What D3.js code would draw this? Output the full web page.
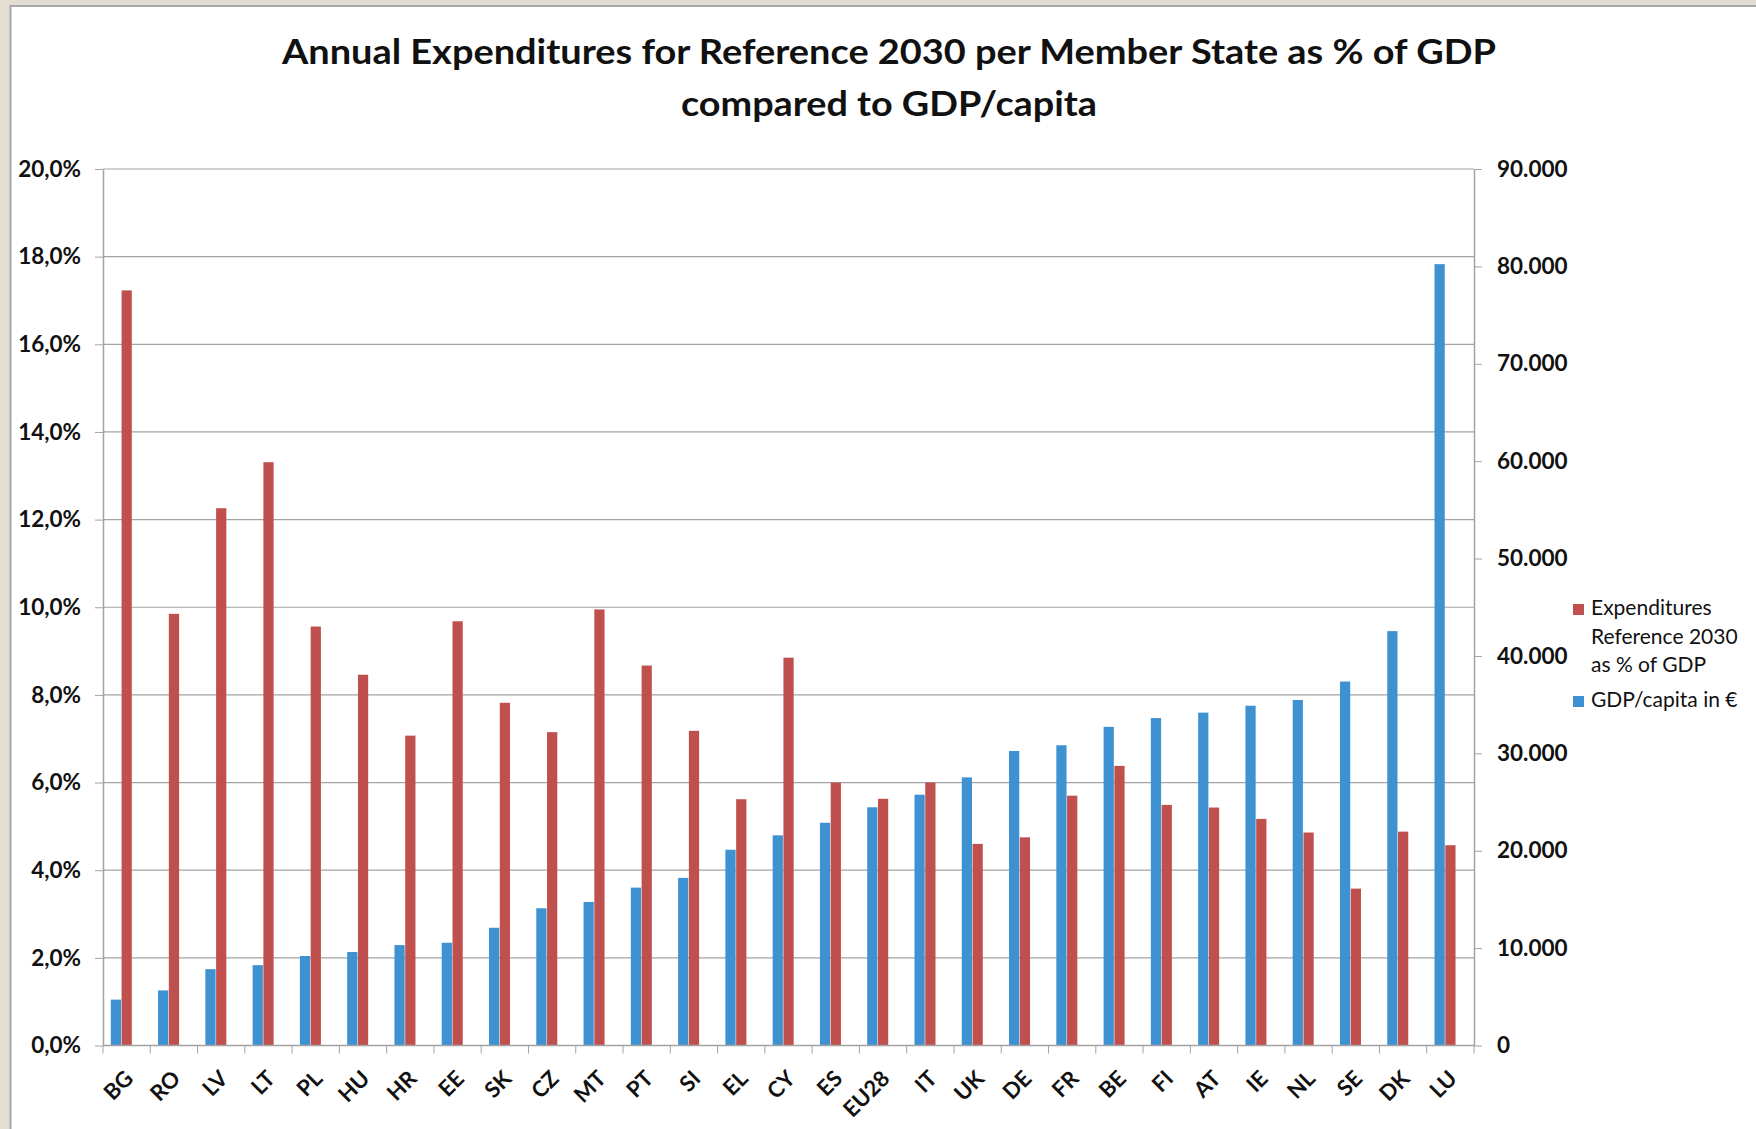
<!DOCTYPE html>
<html lang="en">
<head>
    <meta charset="UTF-8">
    <title>Annual Expenditures for Reference 2030</title>
    <script src="https://d3js.org/d3.v7.min.js"></script>
    <style>
        html, body {
            margin: 0;
            padding: 0;
            background: #e4ddd2;
        }
        text {
            font-family: Lato, 'Open Sans', sans-serif;
            fill: #111;
        }
        .title { font-size: 35px; font-weight: bold; }
        .tick-label { font-size: 22.5px; font-weight: bold; }
        .cat-label { font-size: 22px; font-weight: bold; }
        .legend text { font-size: 21px; }
    </style>
</head>
<body>
<script>
    const width = 1756;
    const height = 1129;

    const countries = ['BG','RO','LV','LT','PL','HU','HR','EE','SK','CZ','MT','PT','SI','EL','CY','ES',
        'EU28','IT','UK','DE','FR','BE','FI','AT','IE','NL','SE','DK','LU'];

    // expenditures reference 2030, % of GDP
    const expenditures = [17.23, 9.85, 12.26, 13.31, 9.56, 8.46, 7.07, 9.68, 7.82, 7.15, 9.95, 8.67, 7.18, 5.62, 8.85, 6.00,
        5.63, 6.00, 4.60, 4.75, 5.70, 6.38, 5.49, 5.43, 5.17, 4.86, 3.58, 4.88, 4.57];

    // GDP per capita in euro
    const gdpPerCapita = [4710, 5660, 7840, 8250, 9190, 9600, 10310, 10550, 12090, 14090, 14740, 16210, 17210, 20100, 21580, 22870,
        24460, 25750, 27530, 30240, 30830, 32720, 33620, 34180, 34890, 35480, 37370, 42550, 80230];

    const leftTicks = [0, 2, 4, 6, 8, 10, 12, 14, 16, 18, 20];
    const rightTicks = [0, 10000, 20000, 30000, 40000, 50000, 60000, 70000, 80000, 90000];

    const seriesNames = ['Expenditures Reference 2030 as % of GDP', 'GDP/capita in €'];
    const legendLines = [['Expenditures', 'Reference 2030', 'as % of GDP'], ['GDP/capita in €']];
    const titleLines = ['Annual Expenditures for Reference 2030 per Member State as % of GDP', 'compared to GDP/capita'];

    const red = '#c0504d';
    const blue = '#3e92d2';
    const grid = '#a3a3a3';

    const margin = {left: 103, right: 1474, top: 169, bottom: 1045.5};

    const svg = d3.select('body').append('svg').attr('width', width).attr('height', height);

    // chart frame
    svg.append('rect')
        .attr('x', 10.5).attr('y', 6)
        .attr('width', width).attr('height', height)
        .attr('fill', 'white')
        .attr('stroke', '#a8a8a8')
        .attr('stroke-width', 2);

    const x = d3.scaleBand().domain(countries).range([margin.left, margin.right]);
    const x1 = d3.scaleBand().domain(['gdp', 'exp']).range([7.8, 28.8]).paddingInner(0.05);
    const yL = d3.scaleLinear().domain([0, 20]).range([margin.bottom, margin.top]);
    const yR = d3.scaleLinear().domain([0, 90000]).range([margin.bottom, margin.top]);

    const locale = d3.formatLocale({decimal: ',', thousands: '.', grouping: [3], currency: ['', '€']});
    const fmtPct = d => locale.format('.1f')(d) + '%';
    const fmtNum = locale.format(',d');

    // title
    svg.append('g').selectAll('text')
        .data(titleLines).join('text')
        .attr('class', 'title')
        .attr('x', 889)
        .attr('y', (d, i) => 64 + i * 52)
        .attr('text-anchor', 'middle')
        .attr('textLength', (d, i) => i === 0 ? 1214 : 416)
        .attr('lengthAdjust', 'spacingAndGlyphs')
        .text(d => d);

    // gridlines
    svg.append('g').selectAll('line')
        .data(leftTicks.filter(d => d > 0)).join('line')
        .attr('x1', margin.left).attr('x2', margin.right)
        .attr('y1', d => yL(d)).attr('y2', d => yL(d))
        .attr('stroke', grid).attr('stroke-width', 1.2);

    // left axis
    const gL = svg.append('g')
        .attr('transform', `translate(${margin.left},0)`)
        .call(d3.axisLeft(yL).tickValues(leftTicks).tickFormat(fmtPct).tickSize(8).tickPadding(14).tickSizeOuter(0));
    gL.select('.domain').attr('stroke', grid).attr('stroke-width', 1.5);
    gL.selectAll('.tick line').attr('stroke', grid);
    gL.selectAll('.tick text').attr('class', 'tick-label').attr('fill', '#111');

    // right axis
    const gR = svg.append('g')
        .attr('transform', `translate(${margin.right},0)`)
        .call(d3.axisRight(yR).tickValues(rightTicks).tickFormat(fmtNum).tickSize(8).tickPadding(15).tickSizeOuter(0));
    gR.select('.domain').attr('stroke', grid).attr('stroke-width', 1.5);
    gR.selectAll('.tick line').attr('stroke', grid);
    gR.selectAll('.tick text').attr('class', 'tick-label').attr('fill', '#111');

    // bars
    const rows = countries.map((c, i) => ({c, exp: expenditures[i], gdp: gdpPerCapita[i]}));

    svg.append('g').selectAll('rect')
        .data(rows).join('rect')
        .attr('x', d => x(d.c) + x1('gdp'))
        .attr('width', x1.bandwidth())
        .attr('y', d => yR(d.gdp))
        .attr('height', d => yR(0) - yR(d.gdp))
        .attr('fill', blue);

    svg.append('g').selectAll('rect')
        .data(rows).join('rect')
        .attr('x', d => x(d.c) + x1('exp'))
        .attr('width', x1.bandwidth())
        .attr('y', d => yL(d.exp))
        .attr('height', d => yL(0) - yL(d.exp))
        .attr('fill', red);

    // category axis
    svg.append('line')
        .attr('x1', margin.left).attr('x2', margin.right)
        .attr('y1', margin.bottom).attr('y2', margin.bottom)
        .attr('stroke', grid).attr('stroke-width', 1.5);

    svg.append('g').selectAll('line')
        .data(countries.map(c => x(c)).concat([x.range()[1]])).join('line')
        .attr('x1', d => d).attr('x2', d => d)
        .attr('y1', margin.bottom).attr('y2', margin.bottom + 8)
        .attr('stroke', grid);

    svg.append('g').selectAll('text')
        .data(countries).join('text')
        .attr('class', 'cat-label')
        .attr('text-anchor', 'end')
        .attr('transform', d => `translate(${x(d) + x.bandwidth() / 2 + 8},1080) rotate(-45)`)
        .text(d => d);

    // legend
    const legend = svg.append('g').attr('class', 'legend');
    const legendY = [604, 696];
    legend.selectAll('rect')
        .data(seriesNames).join('rect')
        .attr('x', 1573).attr('y', (d, i) => legendY[i])
        .attr('width', 11).attr('height', 11)
        .attr('fill', (d, i) => i === 0 ? red : blue);

    legendLines.forEach((lines, i) => {
        legend.append('g').selectAll('text')
            .data(lines).join('text')
            .attr('x', 1591)
            .attr('y', (d, j) => legendY[i] + 6 + j * 28.2)
            .attr('dominant-baseline', 'middle')
            .text(d => d);
    });
</script>
</body>
</html>
